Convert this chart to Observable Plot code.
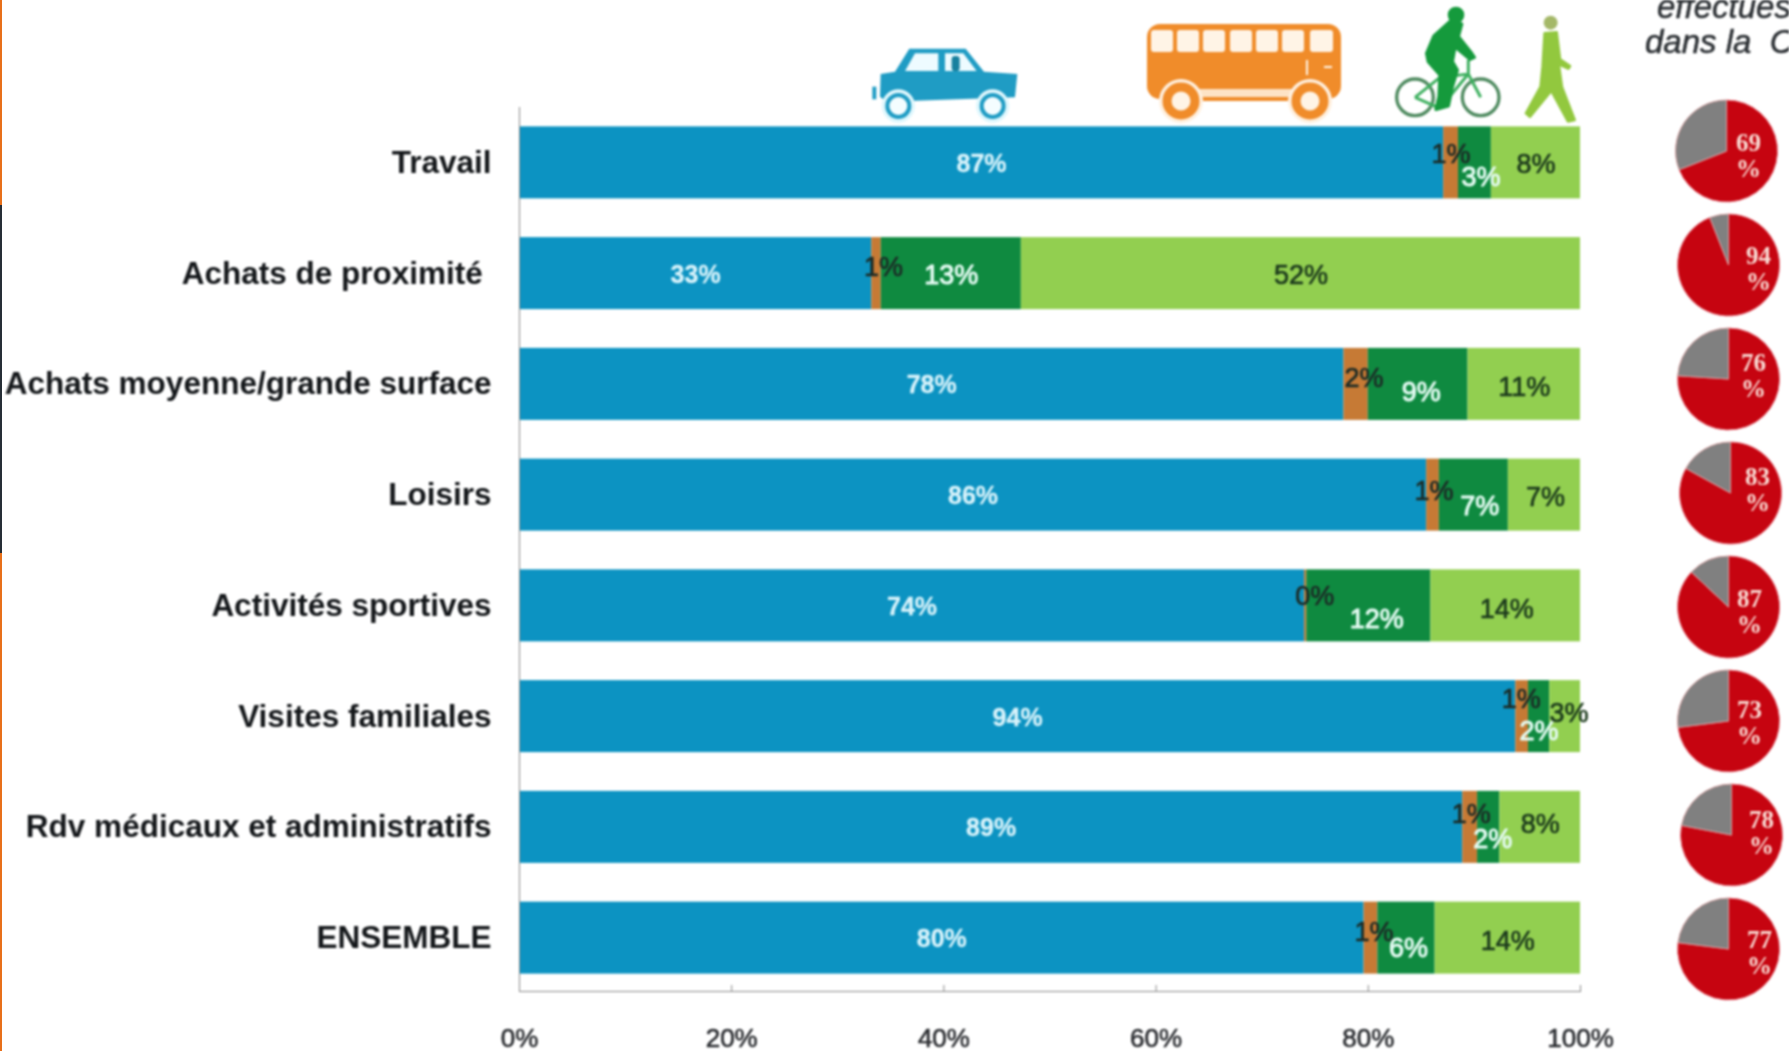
<!DOCTYPE html>
<html lang="fr">
<head>
<meta charset="utf-8">
<script src="https://cdn.jsdelivr.net/npm/d3@7"></script>
<script src="https://cdn.jsdelivr.net/npm/@observablehq/plot@0.6"></script>
<style>
  html, body { margin: 0; padding: 0; background: #fff; overflow: hidden; }
  #page { position: relative; width: 1789px; height: 1051px; overflow: hidden; }
  #page svg { display: block; filter: blur(0.8px); }
  .stripe { position: absolute; left: 0; width: 1.5px; }
</style>
</head>
<body>
<div id="page">
  <div class="stripe" style="top:0;height:205px;background:#e8701a"></div>
  <div class="stripe" style="top:205px;height:348px;background:#262e36"></div>
  <div class="stripe" style="top:553px;height:498px;background:#e8701a"></div>
</div>
<script>
// ---- data ----
const categories = ["Travail", "Achats de proximité", "Achats moyenne/grande surface", "Loisirs",
  "Activités sportives", "Visites familiales", "Rdv médicaux et administratifs", "ENSEMBLE"];
const modes = ["Voiture", "Bus", "Vélo", "Marche"];
const carShare  = [87.1, 33.2, 77.7, 85.5, 74.0, 93.9, 88.9, 79.6];
const busShare  = [1.4, 0.9, 2.3, 1.2, 0.2, 1.2, 1.4, 1.3];
const bikeShare = [3.1, 13.2, 9.4, 6.5, 11.7, 2.0, 2.1, 5.4];
const walkShare = [8.4, 52.7, 10.6, 6.8, 14.1, 2.9, 7.6, 13.7];
const carLabels  = ["87%", "33%", "78%", "86%", "74%", "94%", "89%", "80%"];
const busLabels  = ["1%", "1%", "2%", "1%", "0%", "1%", "1%", "1%"];
const bikeLabels = ["3%", "13%", "9%", "7%", "12%", "2%", "2%", "6%"];
const walkLabels = ["8%", "52%", "11%", "7%", "14%", "3%", "8%", "14%"];
const pieValues = [69, 94, 76, 83, 87, 73, 78, 77];
const xTicks = [0, 20, 40, 60, 80, 100];

// ---- layout and styling ----
const colors = ["#0c93c2", "#c67a35", "#0f8a40", "#92cf50"];
const labelStyle = [
  {fill: "#d8f3fb", stroke: "#d8f3fb", strokeWidth: 0.3, fontSize: 25, fontWeight: 700},
  {fill: "#1c2b26", stroke: "#1c2b26", strokeWidth: 0.7, fontSize: 27},
  {fill: "#e4fbf2", stroke: "#e4fbf2", strokeWidth: 1, fontSize: 27},
  {fill: "#1c3a1c", stroke: "#1c3a1c", strokeWidth: 0.7, fontSize: 27}
];
const labelNudge = [
  [[0,1],[0,1],[0,1],[0,1],[0,1],[0,1],[0,1],[0,1]],
  [[0,-9],[7,-6],[8,-6],[1,-4],[9,-10],[-1,-17],[1,-13],[3,-6]],
  [[6,14],[0,2],[3,8],[6,11],[8,13],[0,15],[4,12],[2,10]],
  [[0,1],[0,2],[0,3],[1,2],[1,3],[4,-3],[0,-3],[0,3]]
];
const pieColumn = 114;              // pies sit right of the 100 % end, on the x scale
const pieRows = [151, 949];         // first and last pie centre
const pieRadius = 51;
const pieNudge = [-2, 0, 0, 2, 0, 0, 3, 0];
const pieLabelDx = [22, 30, 25, 27, 21, 21, 30, 31];
const pieLabelDy = [-8, -9, -16, -16, -8, -11, -15, -9];

// ---- tables built from the arrays ----
const shares = [carShare, busShare, bikeShare, walkShare];
const labels = [carLabels, busLabels, bikeLabels, walkLabels];
const segments = modes.flatMap((mode, m) => categories.map((cat, i) => {
  const start = d3.sum(shares.slice(0, m), s => s[i]);
  return {cat, mode, m, i, value: shares[m][i], mid: start + shares[m][i] / 2, label: labels[m][i]};
}));

const labelMarks = segments.map(d => Plot.text([d], {
  x: "mid", y: "cat", text: "label",
  dx: labelNudge[d.m][d.i][0], dy: labelNudge[d.m][d.i][1],
  ...labelStyle[d.m],
  fontFamily: "Liberation Sans"
}));

// Pies drawn on the plot's x scale with their own row scale.
function pies(index, {x}, values, dims, {document}) {
  const rowY = d3.scalePoint(categories, pieRows);
  const arc = d3.arc().innerRadius(0).outerRadius(pieRadius);
  const g = d3.select(document.createElementNS("http://www.w3.org/2000/svg", "g"));
  categories.forEach((cat, i) => {
    const row = g.append("g")
      .attr("transform", `translate(${x(pieColumn) + pieNudge[i]},${rowY(cat)})`);
    const arcs = d3.pie().sort(null)([pieValues[i], 100 - pieValues[i]]);
    row.selectAll("path").data(arcs).join("path")
      .attr("d", arc)
      .attr("fill", (d, k) => k === 0 ? "#c60410" : "#808080")
      .attr("stroke", (d, k) => k === 0 ? "#e8808a" : "#d8a0a0")
      .attr("stroke-width", 1);
    const t = row.append("text")
      .attr("text-anchor", "middle")
      .attr("font-family", "Liberation Serif")
      .attr("font-weight", 700)
      .attr("font-size", 25)
      .attr("fill", "#f9dcd4");
    t.append("tspan").attr("x", pieLabelDx[i]).attr("y", pieLabelDy[i] + 8).text(pieValues[i]);
    t.append("tspan").attr("x", pieLabelDx[i]).attr("y", pieLabelDy[i] + 34).text("%");
  });
  return g.node();
}

// Pictograms above the bars.
function icons(index, scales, values, dims, {document}) {
  const g = d3.select(document.createElementNS("http://www.w3.org/2000/svg", "g"));
  // car
  const car = g.append("g").attr("transform", "translate(820,0) scale(0.3333)");
  const cb = "#1f9cc4";
  car.append("path").attr("fill", cb).attr("d",
    "M182,222 L225,215 L268,146 L437,146 L492,215 L592,222 L585,292 L200,305 L180,290 Z");
  car.append("path").attr("fill", "#eefbff").attr("d", "M255,213 L285,160 L355,160 L355,213 Z");
  car.append("path").attr("fill", "#eefbff").attr("d", "M375,160 L430,160 L470,213 L375,213 Z");
  car.append("rect").attr("x", 395).attr("y", 168).attr("width", 24).attr("height", 45).attr("rx", 10).attr("fill", "#17809e");
  car.append("rect").attr("x", 157).attr("y", 260).attr("width", 12).attr("height", 38).attr("fill", cb);
  for (const cx of [235, 518]) {
    car.append("circle").attr("cx", cx).attr("cy", 318).attr("r", 50).attr("fill", "#dff7fd");
    car.append("circle").attr("cx", cx).attr("cy", 318).attr("r", 33).attr("fill", "#f4fdff").attr("stroke", cb).attr("stroke-width", 12);
  }
  // bus
  const bus = g.append("g");
  const bo = "#f08c2a";
  bus.append("rect").attr("x", 1147).attr("y", 24).attr("width", 194).attr("height", 75).attr("rx", 13).attr("fill", bo);
  for (const [a, b] of [[1151,1173],[1177,1199],[1203,1225],[1230,1252],[1256,1278],[1282,1304],[1310,1333]]) {
    bus.append("rect").attr("x", a).attr("y", 30).attr("width", b - a).attr("height", 22).attr("rx", 3).attr("fill", "#fff4e6");
  }
  bus.append("rect").attr("x", 1306).attr("y", 60).attr("width", 2).attr("height", 15).attr("fill", "#fff4e6");
  bus.append("rect").attr("x", 1324).attr("y", 66).attr("width", 8).attr("height", 2).attr("fill", "#fff4e6");
  bus.append("rect").attr("x", 1195).attr("y", 89).attr("width", 100).attr("height", 9).attr("fill", "#fde3c6");
  bus.append("rect").attr("x", 1195).attr("y", 97).attr("width", 100).attr("height", 4).attr("fill", bo);
  for (const cx of [1181, 1310]) {
    bus.append("circle").attr("cx", cx).attr("cy", 101).attr("r", 22).attr("fill", "#fff0df");
    bus.append("circle").attr("cx", cx).attr("cy", 101).attr("r", 14).attr("fill", "#fff4e6").attr("stroke", bo).attr("stroke-width", 9);
  }
  // cyclist
  const bike = g.append("g").attr("transform", "translate(1380,0) scale(0.3333)");
  for (const cx of [105, 302]) {
    bike.append("circle").attr("cx", cx).attr("cy", 292).attr("r", 55).attr("fill", "none").attr("stroke", "#4e8a5f").attr("stroke-width", 10);
  }
  bike.append("path").attr("fill", "none").attr("stroke", "#3fb060").attr("stroke-width", 9)
    .attr("d", "M105,292 L180,232 L265,222 L302,292 M265,180 L265,222 M180,325 L265,222 M105,292 L180,325");
  bike.append("circle").attr("cx", 228).attr("cy", 45).attr("r", 25).attr("fill", "#159a3c");
  bike.append("path").attr("fill", "#159a3c").attr("stroke", "#159a3c").attr("stroke-width", 10).attr("stroke-linejoin", "round")
    .attr("d", "M215,60 L245,72 L235,110 L275,160 L283,172 L270,178 L225,140 L217,185 L232,210 L217,260 L205,318 L168,328 L177,290 L180,225 L145,185 L140,160 L162,108 Z");
  // walker
  const walk = g.append("g").attr("transform", "translate(1380,0) scale(0.3333)");
  walk.append("circle").attr("cx", 512).attr("cy", 68).attr("r", 21).attr("fill", "#a4b868");
  walk.append("path").attr("fill", "#92c83e").attr("stroke", "#92c83e").attr("stroke-width", 8).attr("stroke-linejoin", "round")
    .attr("d", "M494,100 L530,97 L540,178 L570,198 L565,206 L536,192 L546,262 L584,360 L564,364 L514,272 L450,350 L438,340 L482,260 L488,200 Z");
  return g.node();
}

// Clipped header of the pie column.
function header(index, scales, values, dims, {document}) {
  const g = d3.select(document.createElementNS("http://www.w3.org/2000/svg", "g"))
    .attr("font-family", "Liberation Sans")
    .attr("font-style", "italic")
    .attr("font-size", 33)
    .attr("text-anchor", "start")
    .attr("fill", "#2b2f33")
    .attr("stroke", "#2b2f33")
    .attr("stroke-width", 0.5);
  g.append("text").attr("x", 1657).attr("y", 18).text("effectués");
  g.append("text").attr("x", 1645).attr("y", 53).style("white-space", "pre").text("dans la  CC");
  return g.node();
}

const chart = Plot.plot({
  width: 1789,
  height: 1051,
  marginLeft: 519,
  marginRight: 209,
  marginTop: 107,
  marginBottom: 60,
  style: {background: "transparent", overflow: "hidden"},
  x: {domain: [0, 100], range: [519, 1580]},
  y: {domain: categories, paddingInner: 0.35, paddingOuter: 0.175, round: false, range: [107, 993]},
  color: {domain: modes, range: colors},
  marks: [
    Plot.barX(segments, {x: "value", y: "cat", fill: "mode", order: modes}),
    Plot.frame({anchor: "left", stroke: "#8a8a8a", strokeOpacity: 1}),
    Plot.frame({anchor: "bottom", stroke: "#8a8a8a", strokeOpacity: 1}),
    Plot.axisY({
      anchor: "left", label: null, tickSize: 0, tickPadding: 28,
      tickFormat: d => d === "Achats de proximité" ? d + "\u00a0" : d,
      fontFamily: "Liberation Sans", fontSize: 31.5, fontWeight: 700, fill: "#14171a", lineWidth: 40
    }),
    Plot.axisX({
      anchor: "bottom", label: null, ticks: xTicks, tickSize: -6, tickPadding: 43,
      tickFormat: d => d + "%", stroke: "#8a8a8a",
      textStroke: "#2a2c30", textStrokeWidth: 0.6,
      fontFamily: "Liberation Sans", fontSize: 26, fill: "#2a2c30"
    }),
    ...labelMarks,
    pies,
    icons,
    header
  ]
});
document.getElementById("page").appendChild(chart);
</script>
</body>
</html>
